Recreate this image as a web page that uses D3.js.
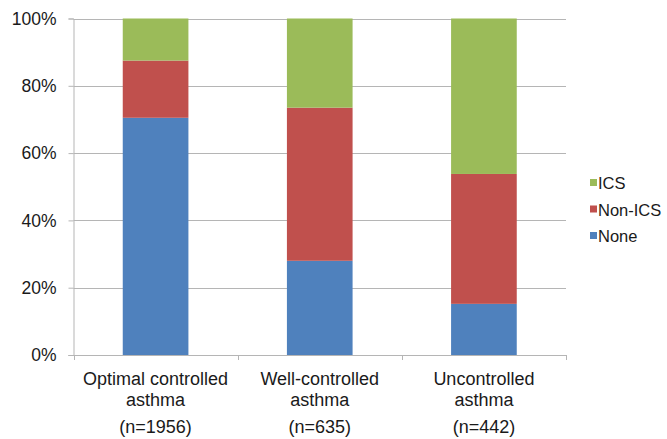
<!DOCTYPE html>
<html>
<head>
<meta charset="utf-8">
<script src="https://cdn.jsdelivr.net/npm/d3@7"></script>
<style>
  html, body { margin: 0; padding: 0; background: #fff; }
  svg { display: block; font-family: "Liberation Sans", Arial, sans-serif; }
</style>
</head>
<body>
<svg id="chart" width="667" height="439"></svg>
<script>
// Asthma control groups and medication use share (%)
const categories = ["Optimal controlled asthma", "Well-controlled asthma", "Uncontrolled asthma"];
const labelLines = [["Optimal controlled", "asthma"], ["Well-controlled", "asthma"], ["Uncontrolled", "asthma"]];
const sampleSizes = ["(n=1956)", "(n=635)", "(n=442)"];
const seriesNames = ["None", "Non-ICS", "ICS"];
const noneValues = [70.5, 28, 15.2];
const nonIcsValues = [17, 45.5, 38.6];
const icsValues = [12.5, 26.5, 46.2];
const yTicks = [0, 20, 40, 60, 80, 100];
const colors = ["#4F81BD", "#C0504D", "#9BBB59"];

const svg = d3.select("#chart");
const margin = { left: 73.5, right: 101, top: 18.5, bottom: 84 };
const W = 667, H = 439;

const x = d3.scaleBand()
  .domain(categories)
  .range([margin.left, W - margin.right])
  .paddingInner(0.6)
  .paddingOuter(0.3);

const y = d3.scaleLinear()
  .domain([0, 100])
  .range([H - margin.bottom, margin.top]);

const rows = categories.map((c, i) => ({
  category: c,
  "None": noneValues[i],
  "Non-ICS": nonIcsValues[i],
  "ICS": icsValues[i]
}));
const stacked = d3.stack().keys(seriesNames)(rows);

// Horizontal gridlines
svg.append("g")
  .selectAll("line")
  .data(yTicks.filter(t => t > 0))
  .join("line")
  .attr("x1", margin.left)
  .attr("x2", W - margin.right)
  .attr("y1", d => Math.round(y(d)) + 0.5)
  .attr("y2", d => Math.round(y(d)) + 0.5)
  .attr("stroke", "#b5b5b5")
  .attr("stroke-width", 1);

// Stacked bars
svg.append("g")
  .selectAll("g")
  .data(stacked)
  .join("g")
  .attr("fill", (d, i) => colors[i])
  .selectAll("rect")
  .data(d => d)
  .join("rect")
  .attr("x", d => x(d.data.category))
  .attr("width", x.bandwidth())
  .attr("y", d => y(d[1]))
  .attr("height", d => y(d[0]) - y(d[1]));

// Y axis
const yAxis = svg.append("g")
  .attr("transform", `translate(${margin.left},0)`)
  .call(d3.axisLeft(y).tickValues(yTicks).tickFormat(d => d + "%").tickSize(5).tickPadding(12));
yAxis.select(".domain").attr("stroke", "#b5b5b5");
yAxis.selectAll(".tick line").attr("stroke", "#b5b5b5");
yAxis.selectAll(".tick text")
  .attr("font-size", 17.5)
  .attr("fill", "#1a1a1a")
  .attr("font-family", "Liberation Sans, Arial, sans-serif");

// X axis baseline and category separators
const xAxisG = svg.append("g");
xAxisG.append("line")
  .attr("x1", margin.left - 5)
  .attr("x2", W - margin.right)
  .attr("y1", y(0) + 0.5)
  .attr("y2", y(0) + 0.5)
  .attr("stroke", "#b5b5b5");
const bounds = categories.map((c, i) => margin.left + i * (W - margin.left - margin.right) / categories.length)
  .concat([W - margin.right]);
xAxisG.selectAll("line.sep")
  .data(bounds)
  .join("line")
  .attr("class", "sep")
  .attr("x1", d => Math.round(d) + 0.5)
  .attr("x2", d => Math.round(d) + 0.5)
  .attr("y1", y(0))
  .attr("y2", y(0) + 5)
  .attr("stroke", "#b5b5b5");

// Category labels
const labels = svg.append("g")
  .attr("font-size", 18)
  .attr("fill", "#1a1a1a")
  .attr("text-anchor", "middle");
categories.forEach((c, i) => {
  const cx = x(c) + x.bandwidth() / 2;
  labelLines[i].forEach((line, j) => {
    labels.append("text")
      .attr("x", cx)
      .attr("y", 385 + j * 20.5)
      .text(line);
  });
  labels.append("text")
    .attr("x", cx)
    .attr("y", 433)
    .text(sampleSizes[i]);
});

// Legend (top to bottom: ICS, Non-ICS, None)
const legendOrder = seriesNames.slice().reverse();
const legend = svg.append("g")
  .selectAll("g")
  .data(legendOrder)
  .join("g")
  .attr("transform", (d, i) => `translate(590, ${183 + i * 26.5})`);
legend.append("rect")
  .attr("x", 0)
  .attr("y", -4)
  .attr("width", 7)
  .attr("height", 7)
  .attr("fill", d => colors[seriesNames.indexOf(d)]);
legend.append("text")
  .attr("x", 8)
  .attr("y", 6)
  .attr("font-size", 16.5)
  .attr("fill", "#1a1a1a")
  .text(d => d);
</script>
</body>
</html>
